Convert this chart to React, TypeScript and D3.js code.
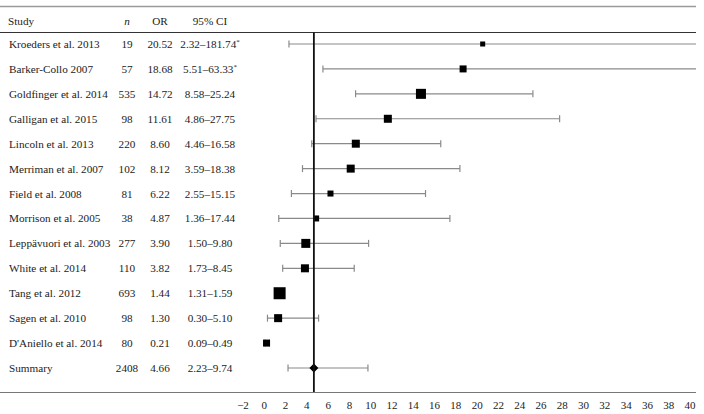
import React from "react";
import * as d3 from "d3";

const studies = [
  "Kroeders et al. 2013",
  "Barker-Collo 2007",
  "Goldfinger et al. 2014",
  "Galligan et al. 2015",
  "Lincoln et al. 2013",
  "Merriman et al. 2007",
  "Field et al. 2008",
  "Morrison et al. 2005",
  "Leppävuori et al. 2003",
  "White et al. 2014",
  "Tang et al. 2012",
  "Sagen et al. 2010",
  "D'Aniello et al. 2014",
];
const nValues = [19, 57, 535, 98, 220, 102, 81, 38, 277, 110, 693, 98, 80];
const orValues = [20.52, 18.68, 14.72, 11.61, 8.6, 8.12, 6.22, 4.87, 3.9, 3.82, 1.44, 1.3, 0.21];
const ciLow = [2.32, 5.51, 8.58, 4.86, 4.46, 3.59, 2.55, 1.36, 1.5, 1.73, 1.31, 0.3, 0.09];
const ciHigh = [181.74, 63.33, 25.24, 27.75, 16.58, 18.38, 15.15, 17.44, 9.8, 8.45, 1.59, 5.1, 0.49];
const weights = [3.0, 5.8, 11.9, 7.6, 7.6, 7.6, 4.3, 4.3, 9.6, 7.6, 17.1, 7.6, 5.8];
const summary = { label: "Summary", n: 2408, or: 4.66, low: 2.23, high: 9.74 };
const xTicks = d3.range(-2, 41, 2);

const W = 704;
const H = 414;
const FONT = '"Liberation Serif", "DejaVu Serif", serif';

const fmt2 = d3.format(".2f");

export default function App() {
  const x = d3.scaleLinear().domain([-2, 40]).range([243, 690]);
  const clipX = 696;
  const rows = [...studies, summary.label];
  const y = d3.scalePoint<string>().domain(rows).range([44, 368]);
  const size = d3.scaleSqrt().domain([0, 17.1]).range([0, 12]);

  const colStudy = 9;
  const colN = 127;
  const colOR = 160;
  const colCI = 210;
  const fs = 11.2;
  const lineColor = "#8a8a8a";
  const capH = 3.5;

  const ciText = (lo: number, hi: number) => `${fmt2(lo)}–${fmt2(hi)}`;

  return (
    <svg
      width={W}
      height={H}
      style={{ position: "absolute", left: 0, top: 0, background: "#fff", fontFamily: FONT, fontSize: fs }}
    >
      {/* top rule */}
      <line x1={0} x2={clipX} y1={6.5} y2={6.5} stroke="#9a9a9a" strokeWidth={1.5} />
      {/* header */}
      <g fill="#222">
        <text x={colStudy - 1} y={25}>Study</text>
        <text x={colN} y={25} textAnchor="middle" fontStyle="italic">n</text>
        <text x={colOR} y={25} textAnchor="middle">OR</text>
        <text x={colCI} y={25} textAnchor="middle">95% CI</text>
      </g>
      <line x1={0} x2={clipX} y1={32.5} y2={32.5} stroke="#333" strokeWidth={1} />

      {/* study rows */}
      {studies.map((s, i) => {
        const cy = y(s)!;
        const lo = x(ciLow[i]);
        const hiRaw = x(ciHigh[i]);
        const clipped = hiRaw > clipX;
        const hi = clipped ? clipX : hiRaw;
        const sz = size(weights[i]);
        const star = ciHigh[i] > 40;
        return (
          <g key={s}>
            <text x={colStudy} y={cy + 4} fill="#222">{s}</text>
            <text x={colN} y={cy + 4} textAnchor="middle" fill="#222">{nValues[i]}</text>
            <text x={colOR} y={cy + 4} textAnchor="middle" fill="#222">{fmt2(orValues[i])}</text>
            <text x={colCI} y={cy + 4} textAnchor="middle" fill="#222">
              {ciText(ciLow[i], ciHigh[i])}
              {star ? <tspan style={{ fontSize: 7 }} dy={-4}>*</tspan> : null}
            </text>
            <line x1={lo} x2={hi} y1={cy} y2={cy} stroke={lineColor} strokeWidth={1.2} />
            <line x1={lo} x2={lo} y1={cy - capH} y2={cy + capH} stroke={lineColor} strokeWidth={1.2} />
            {!clipped && (
              <line x1={hi} x2={hi} y1={cy - capH} y2={cy + capH} stroke={lineColor} strokeWidth={1.2} />
            )}
            <rect
              x={x(orValues[i]) - sz / 2}
              y={cy - sz / 2}
              width={sz}
              height={sz}
              fill="#000"
            />
          </g>
        );
      })}

      {/* summary row */}
      {(() => {
        const cy = y(summary.label)!;
        const lo = x(summary.low);
        const hi = x(summary.high);
        const cx = x(summary.or);
        const d = 4.5;
        return (
          <g>
            <text x={colStudy} y={cy + 4} fill="#222">{summary.label}</text>
            <text x={colN} y={cy + 4} textAnchor="middle" fill="#222">{summary.n}</text>
            <text x={colOR} y={cy + 4} textAnchor="middle" fill="#222">{fmt2(summary.or)}</text>
            <text x={colCI} y={cy + 4} textAnchor="middle" fill="#222">{ciText(summary.low, summary.high)}</text>
            <line x1={lo} x2={hi} y1={cy} y2={cy} stroke={lineColor} strokeWidth={1.2} />
            <line x1={lo} x2={lo} y1={cy - capH} y2={cy + capH} stroke={lineColor} strokeWidth={1.2} />
            <line x1={hi} x2={hi} y1={cy - capH} y2={cy + capH} stroke={lineColor} strokeWidth={1.2} />
            <path d={`M${cx},${cy - d}L${cx + d},${cy}L${cx},${cy + d}L${cx - d},${cy}Z`} fill="#000" />
          </g>
        );
      })()}

      {/* summary vertical line */}
      <line
        x1={x(summary.or)}
        x2={x(summary.or)}
        y1={32.5}
        y2={392}
        stroke="#111"
        strokeWidth={1.8}
      />

      {/* bottom rule */}
      <line x1={0} x2={clipX} y1={392.5} y2={392.5} stroke="#777" strokeWidth={1} />

      {/* x axis labels */}
      <g fill="#222" style={{ fontSize: 11 }}>
        {xTicks.map((t) => (
          <text key={t} x={x(t)} y={409} textAnchor="middle">
            {t < 0 ? `−${Math.abs(t)}` : t}
          </text>
        ))}
      </g>
    </svg>
  );
}
